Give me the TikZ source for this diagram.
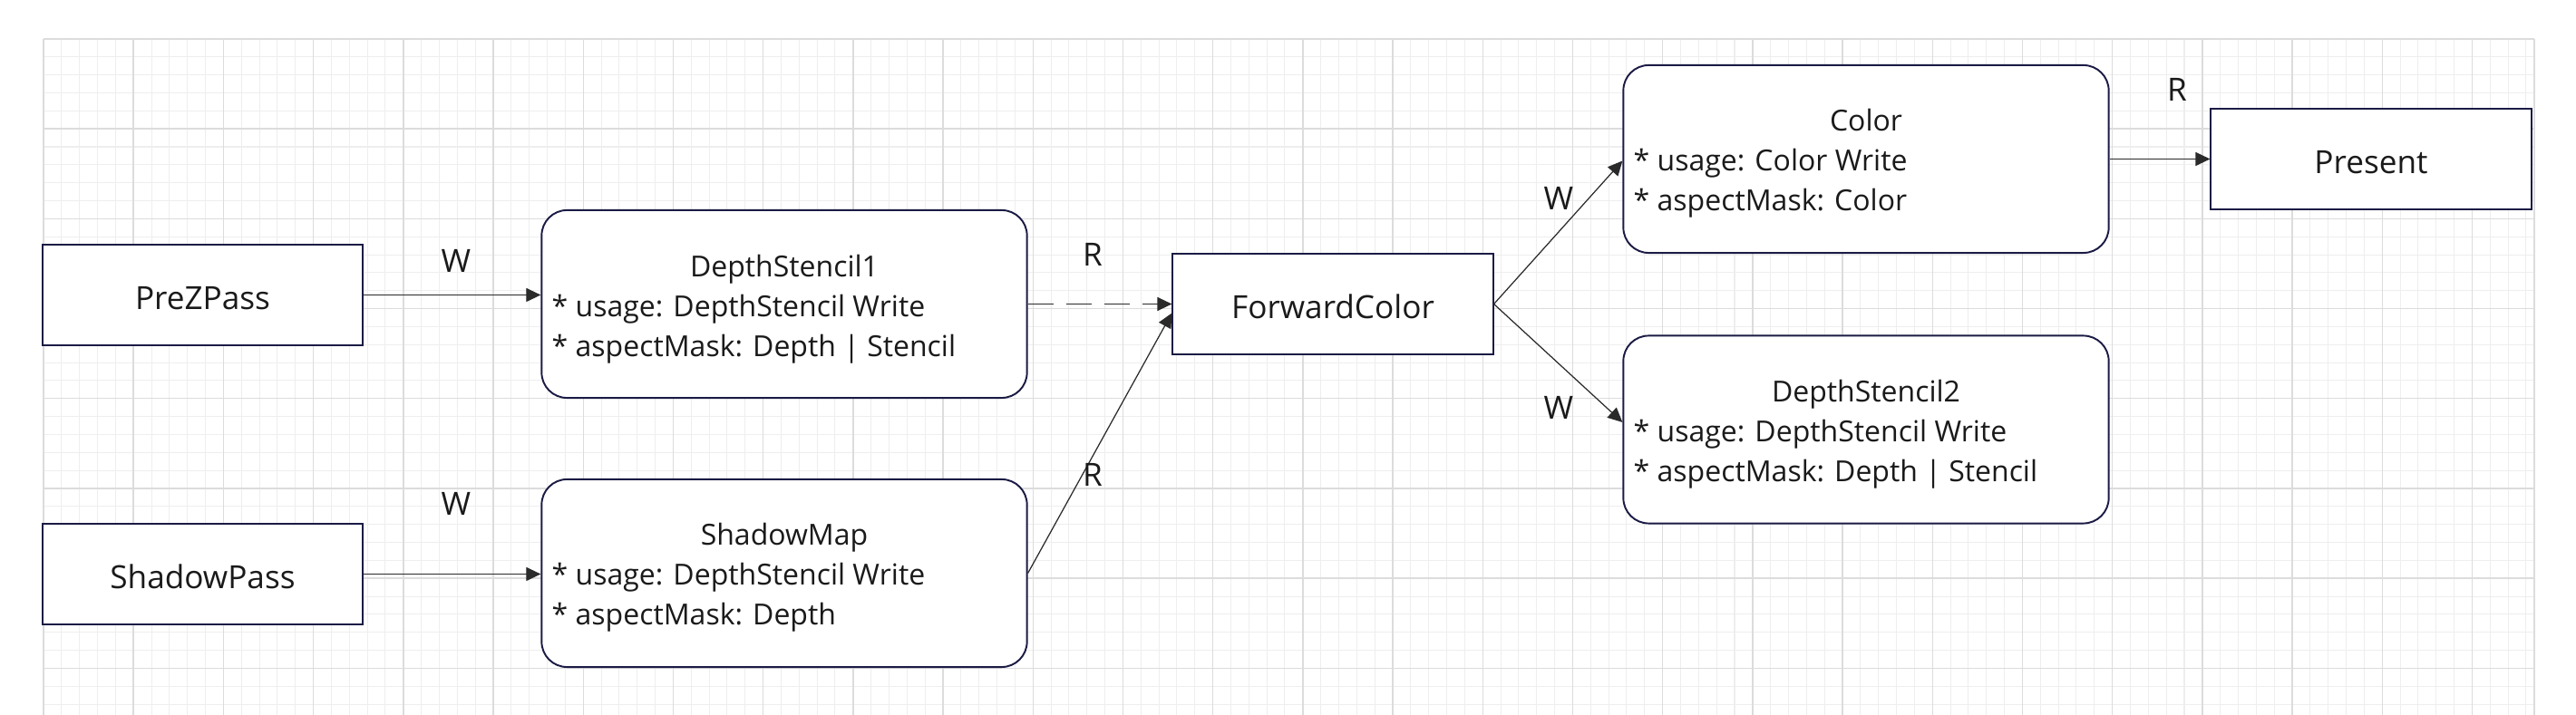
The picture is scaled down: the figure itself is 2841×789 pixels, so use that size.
\documentclass[tikz,border=0pt]{standalone}
\usepackage{fontspec}
\setmainfont{Open Sans}
\usetikzlibrary{arrows.meta,calc}
\definecolor{boxline}{HTML}{1B1B45}
\definecolor{conn}{HTML}{2A2A2A}
\definecolor{txt}{HTML}{1A1A1A}
\definecolor{gridminor}{HTML}{EEEEEE}
\definecolor{gridmajor}{HTML}{DCDCDC}
\tikzset{
  passbox/.style={draw=boxline, line width=0.55pt, fill=white, minimum width=3.53cm, minimum height=1.11cm, inner sep=0pt, text height=0.32cm, text depth=0pt, text=txt, font=\fontsize{10}{12.5}\selectfont},
  resbox/.style={draw=boxline, line width=0.55pt, fill=white, rounded corners=0.28cm, minimum width=5.35cm, minimum height=2.07cm, inner sep=0pt},
  rtitle/.style={anchor=base, inner sep=0pt, text=txt, font=\fontsize{9.1}{12.5}\selectfont},
  ritem/.style={anchor=base west, inner sep=0pt, text=txt, font=\fontsize{9.1}{12.5}\selectfont},
  elabel/.style={inner sep=0pt, text=txt, font=\fontsize{10}{12}\selectfont},
  conline/.style={draw=conn, line width=0.35pt, -{Triangle[length=0.16cm, width=0.15cm]}},
  minorline/.style={draw=gridminor, line width=0.3pt},
  majorline/.style={draw=gridmajor, line width=0.4pt}
}
\begin{document}
\begin{tikzpicture}[x=0.01cm, y=-0.01cm]
\useasboundingbox (0,0) rectangle (2841,789);
\fill[white] (0,0) rectangle (2841,789);
% grid
\foreach \i in {0,...,138} \draw[minorline] ({48+\i*19.84},43) -- ({48+\i*19.84},789);
\foreach \j in {0,...,37} \draw[minorline] (48,{43+\j*19.84}) -- (2795,{43+\j*19.84});
\foreach \i in {0,...,27} \draw[majorline] ({48+\i*99.2},43) -- ({48+\i*99.2},789);
\foreach \j in {0,...,7} \draw[majorline] (48,{43+\j*99.2}) -- (2795,{43+\j*99.2});
\draw[majorline] (2795,43) -- (2795,789);

% nodes
\node[passbox] (pre) at (223.5,325.5) {PreZPass};
\node[passbox] (sp) at (223.5,633.5) {ShadowPass};
\node[passbox] (fc) at (1470,335.5) {ForwardColor};
\node[passbox] (pr) at (2615,175.5) {Present};

\node[resbox] (ds1) at (865,335.5) {};
\node[rtitle] (ds1a) at (865,306) {DepthStencil1};
\node[ritem] (ds1b) at (608,350) {* usage: DepthStencil Write};
\node[ritem] (ds1c) at (608,394) {* aspectMask: Depth | Stencil};

\node[resbox] (sm) at (865,632.5) {};
\node[rtitle] (sma) at (865,602) {ShadowMap};
\node[ritem] (smb) at (608,646) {* usage: DepthStencil Write};
\node[ritem] (smc) at (608,690) {* aspectMask: Depth};

\node[resbox] (col) at (2058,175.5) {};
\node[rtitle] (cola) at (2058,145) {Color};
\node[ritem] (colb) at (1801,189) {* usage: Color Write};
\node[ritem] (colc) at (1801,233) {* aspectMask: Color};

\node[resbox] (ds2) at (2058,474) {};
\node[rtitle] (ds2a) at (2058,444) {DepthStencil2};
\node[ritem] (ds2b) at (1801,488) {* usage: DepthStencil Write};
\node[ritem] (ds2c) at (1801,532) {* aspectMask: Depth | Stencil};

% connectors
\draw[conline] (pre.east) -- (ds1.west |- pre.east);
\draw[conline] (sp.east) -- (sm.west |- sp.east);
\draw[conline, dash pattern=on 0.28cm off 0.14cm] (ds1.east) -- (fc.west);
\draw[conline] (sm.east) -- ($(fc.west)+(0,10)$);
\draw[conline] (fc.east) -- ($(col.west)+(0,2)$);
\draw[conline] (fc.east) -- ($(ds2.west)+(0,-8)$);
\draw[conline] (col.east) -- (pr.west);

% labels
\node[elabel] (l1) at (503,288) {W};
\node[elabel] (l2) at (503,556) {W};
\node[elabel] (l3) at (1205,281) {R};
\node[elabel] (l4) at (1205,524) {R};
\node[elabel] (l5) at (1719,219) {W};
\node[elabel] (l6) at (1719,450) {W};
\node[elabel] (l7) at (2401,99) {R};
\end{tikzpicture}
\end{document}
